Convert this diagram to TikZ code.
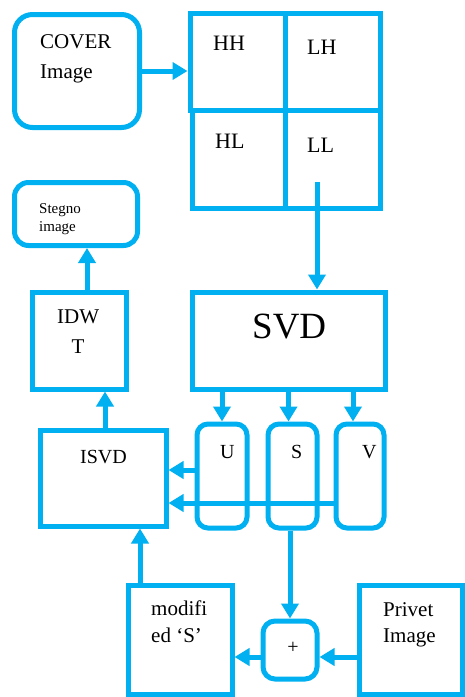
\documentclass[tikz,border=0pt]{standalone}
\usepackage{fontspec}
\setmainfont{Liberation Serif}
\usetikzlibrary{arrows.meta}
\definecolor{cy}{HTML}{00B0F0}
\tikzset{
  box/.style={draw=cy, line width=5pt, inner sep=0pt, fill=white},
  rbox/.style={box, rounded corners=#1},
  arr/.style={draw=cy, line width=5pt, -{Triangle[length=15pt,width=17pt]}},
  txt/.style={inner sep=0pt, anchor=base west, text=black},
  ctxt/.style={inner sep=0pt, anchor=base, text=black},
}
\newcommand{\fs}[2]{\fontsize{#1}{#2}\selectfont}
\begin{document}
\begin{tikzpicture}[x=1pt,y=-1pt]
\useasboundingbox (0,0) rectangle (465,697);
% boxes
\node[rbox=18pt, minimum width=125pt, minimum height=113pt] (cover) at (77,71) {};
\node[box, minimum width=95pt, minimum height=97pt] (hh) at (237.5,61.5) {};
\node[box, minimum width=95pt, minimum height=97pt] (lh) at (332.5,61.5) {};
\node[box, minimum width=93pt, minimum height=98pt] (hl) at (238.5,159) {};
\node[box, minimum width=95pt, minimum height=98pt] (ll) at (332.5,159) {};
\node[rbox=14pt, minimum width=123pt, minimum height=63pt] (stegno) at (76,214) {};
\node[box, minimum width=94pt, minimum height=97pt] (idwt) at (79,340.5) {};
\node[box, minimum width=193pt, minimum height=97pt] (svd) at (288.5,340.5) {};
\node[box, minimum width=126pt, minimum height=96pt] (isvd) at (103,478) {};
\node[rbox=11pt, minimum width=50pt, minimum height=104pt] (u) at (222,476) {};
\node[rbox=11pt, minimum width=49pt, minimum height=104pt] (s) at (292.5,476) {};
\node[rbox=11pt, minimum width=48pt, minimum height=104pt] (v) at (360,476) {};
\node[rbox=12pt, minimum width=54pt, minimum height=58pt] (plus) at (290,650) {};
\node[box, minimum width=104pt, minimum height=109pt] (mods) at (180,639.5) {};
\node[box, minimum width=103pt, minimum height=109pt] (privet) at (410.5,639.5) {};
% texts
\node[txt] (t1) at (40,48) {\fs{21}{30}COVER};
\node[txt] (t2) at (40,78) {\fs{21}{30}Image};
\node[txt] (thh) at (213,50) {\fs{22}{30}HH};
\node[txt] (tlh) at (307,54) {\fs{22}{30}LH};
\node[txt] (thl) at (215,148) {\fs{22}{30}HL};
\node[txt] (tll) at (307,152) {\fs{22}{30}LL};
\node[txt] (ts1) at (39,213) {\fs{15}{18}Stegno};
\node[txt] (ts2) at (39,231) {\fs{15}{18}image};
\node[txt] (ti1) at (57,323) {\fs{21}{30}IDW};
\node[ctxt] (ti2) at (78,353) {\fs{21}{30}T};
\node[txt] (tsvd) at (252,338) {\fs{37}{40}SVD};
\node[txt] (tu) at (220,458) {\fs{20}{30}U};
\node[txt] (tss) at (291,458) {\fs{20}{30}S};
\node[txt] (tv) at (362,458) {\fs{20}{30}V};
\node[txt] (tisvd) at (80,463) {\fs{20}{30}ISVD};
\node[txt] (tm1) at (151,615) {\fs{21}{30}modifi};
\node[txt] (tm2) at (151,642) {\fs{21}{30}ed ‘S’};
\node[inner sep=0pt, text=black] (tplus) at (293,648) {\fs{20}{24}+};
\node[txt] (tp1) at (383,616) {\fs{21}{30}Privet};
\node[txt] (tp2) at (383,642) {\fs{21}{30}Image};
% connectors
\coordinate (llstart) at (317,182);
\draw[arr] (cover.east) -- (cover.east -| hh.west);
\draw[arr] (llstart) -- (llstart |- svd.north);
\draw[arr] ([xshift=8pt]idwt.north) -- ([xshift=8pt]idwt.north |- stegno.south);
\draw[arr] ([xshift=2pt]isvd.north) -- ([xshift=2pt]isvd.north |- idwt.south);
\draw[arr] (u.north |- svd.south) -- (u.north);
\draw[arr] (svd.south) -- (svd.south |- s.north);
\draw[arr] ([xshift=-7pt]v.north |- svd.south) -- ([xshift=-7pt]v.north);
\draw[arr] ([yshift=6pt]u.west) -- ([yshift=6pt]u.west -| isvd.east);
\draw[arr] ([yshift=-27pt]v.west) -- ([yshift=-27pt]v.west -| isvd.east);
\draw[arr] (plus.north |- s.south) -- (plus.north);
\draw[arr] ([yshift=-17.5pt]privet.west) -- ([yshift=-17.5pt]privet.west -| plus.east);
\draw[arr] ([yshift=-7pt]plus.west) -- ([yshift=-7pt]plus.west -| mods.east);
\draw[arr] ([xshift=-40pt]mods.north) -- ([xshift=-40pt]mods.north |- isvd.south);
\end{tikzpicture}
\end{document}
